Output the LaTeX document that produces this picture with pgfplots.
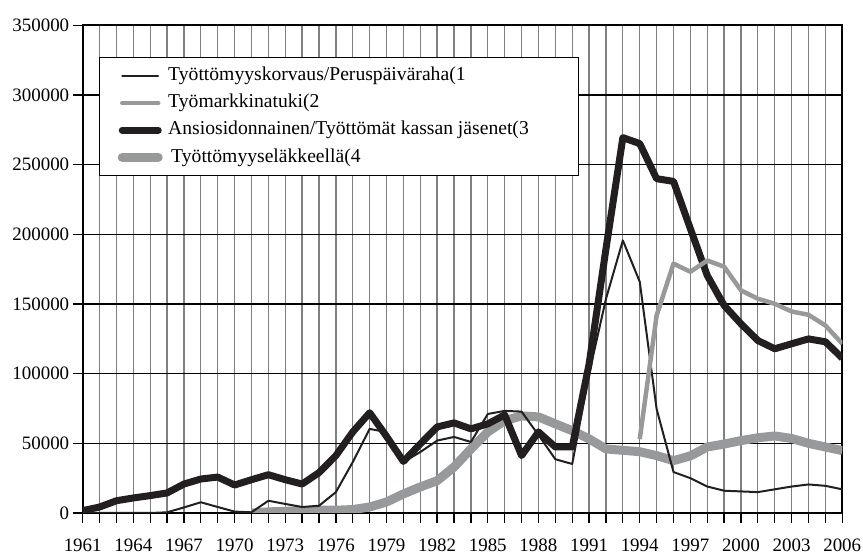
\documentclass[border=0pt]{standalone}
\usepackage{fontspec}
\setmainfont{Liberation Serif}
\usepackage{pgfplots}
\usepackage{pgfplotstable}
\pgfplotsset{compat=1.18}
\definecolor{lblack}{HTML}{231F20}
\definecolor{lgrey}{HTML}{98999B}
\definecolor{ggrid}{HTML}{808080}
\newcommand{\lf}{\fontsize{19.7}{19.7}\selectfont}
\pgfplotstableread{
year s1 s3
1961 0 1700
1962 0 4300
1963 0 8800
1964 0 10800
1965 0 12500
1966 500 14400
1967 4000 20800
1968 7700 24400
1969 4300 25800
1970 1000 20100
1971 500 23900
1972 8800 27500
1973 6500 23900
1974 4300 20800
1975 5200 29000
1976 15000 41200
1977 36600 58200
1978 60400 72000
1979 58000 55000
1980 36600 37000
1981 43800 49600
1982 52000 61800
1983 54600 64700
1984 51000 60400
1985 71100 64000
1986 73300 70400
1987 72800 41200
1988 56000 58200
1989 38600 47400
1990 35200 47400
1991 100000 107000
1992 153800 189700
1993 195700 269500
1994 166000 265200
1995 74700 240000
1996 29400 238100
1997 25000 204100
1998 19000 170500
1999 16000 149000
2000 15500 135800
2001 15000 123800
2002 17000 117900
2003 19000 121500
2004 20500 125000
2005 19500 122900
2006 17000 111200
}\tabA
\pgfplotstableread{
year s4
1971 0
1972 800
1973 1200
1974 1700
1975 2000
1976 2000
1977 2500
1978 4300
1979 7900
1980 13700
1981 18700
1982 23200
1983 33000
1984 46000
1985 58200
1986 66300
1987 69700
1988 69000
1989 64000
1990 59100
1991 53200
1992 46000
1993 45000
1994 44000
1995 41200
1996 37600
1997 41000
1998 47400
1999 49500
2000 52000
2001 54000
2002 55300
2003 53500
2004 50000
2005 47400
2006 44800
}\tabB
\pgfplotstableread{
year s2
1994 53000
1995 141800
1996 179000
1997 173200
1998 181300
1999 176800
2000 159800
2001 153800
2002 150200
2003 144700
2004 142300
2005 134600
2006 121500
}\tabC
\begin{document}
\begin{tikzpicture}
\begin{axis}[
  scale only axis, width=759.6bp, height=487.5bp,
  xmin=1961, xmax=2006, ymin=0, ymax=350000,
  xtick={1961,...,2006},
  xticklabel={\pgfmathtruncatemacro\yr{round(\tick)}\pgfmathtruncatemacro\m{mod(\yr-1961,3)}\ifnum\m=0 \yr\fi},
  xticklabel style={yshift=-12bp},
  ytick={0,50000,...,350000},
  scaled y ticks=false,
  /pgf/number format/assume math mode=true,
  yticklabel style={/pgf/number format/fixed,/pgf/number format/1000 sep={}},
  tick label style={font=\fontsize{19}{19}\selectfont},
  tick align=outside, tick pos=left,
  major tick length=10bp,
  tick style={black, line width=1.3bp},
  axis line style={line width=2bp, black},
  xmajorgrids, ymajorgrids,
  x grid style={ggrid, line width=1.3bp},
  y grid style={black, line width=1.3bp},
  legend cell align=left,
  legend style={at={(axis description cs:0.02146,0.9354)}, anchor=north west, draw=black, line width=1.5bp, fill=white, inner xsep=18bp, inner ysep=8.5bp, row sep=7.6bp, column sep=5.5bp, nodes={inner sep=0pt, text height=14.5bp, text depth=5bp}},
  legend image code/.code={\draw[#1, line cap=round] (0bp,0bp) -- (36bp,0bp);},
]
\addlegendimage{lblack, line width=2bp}
\addlegendentry{\lf Työttömyyskorvaus/Peruspäiväraha(1}
\addlegendimage{lgrey, line width=4.5bp}
\addlegendentry{\lf Työmarkkinatuki(2}
\addlegendimage{lblack, line width=7bp}
\addlegendentry{\makebox[392bp][l]{\lf Ansiosidonnainen/Työttömät kassan jäsenet(3}}
\addlegendimage{lgrey, line width=9bp}
\addlegendentry{\lf\hspace{3bp}Työttömyyseläkkeellä(4}
\addplot[forget plot, lgrey, line width=9bp, line join=round] table[x=year,y=s4]{\tabB};
\addplot[forget plot, lblack, line width=7bp, line join=round] table[x=year,y=s3]{\tabA};
\addplot[forget plot, lblack, line width=2bp, line join=round] table[x=year,y=s1]{\tabA};
\addplot[forget plot, lgrey, line width=4.5bp, line join=round] table[x=year,y=s2]{\tabC};
\node[anchor=base west, font=\fontsize{14.5}{14.5}\selectfont, xshift=2bp, yshift=5.5bp] at (axis description cs:0,1) {Henkilöä};
\end{axis}
\pgfresetboundingbox
\path (-82.7bp,-41bp) rectangle (780.3bp,513bp);
\end{tikzpicture}
\end{document}
